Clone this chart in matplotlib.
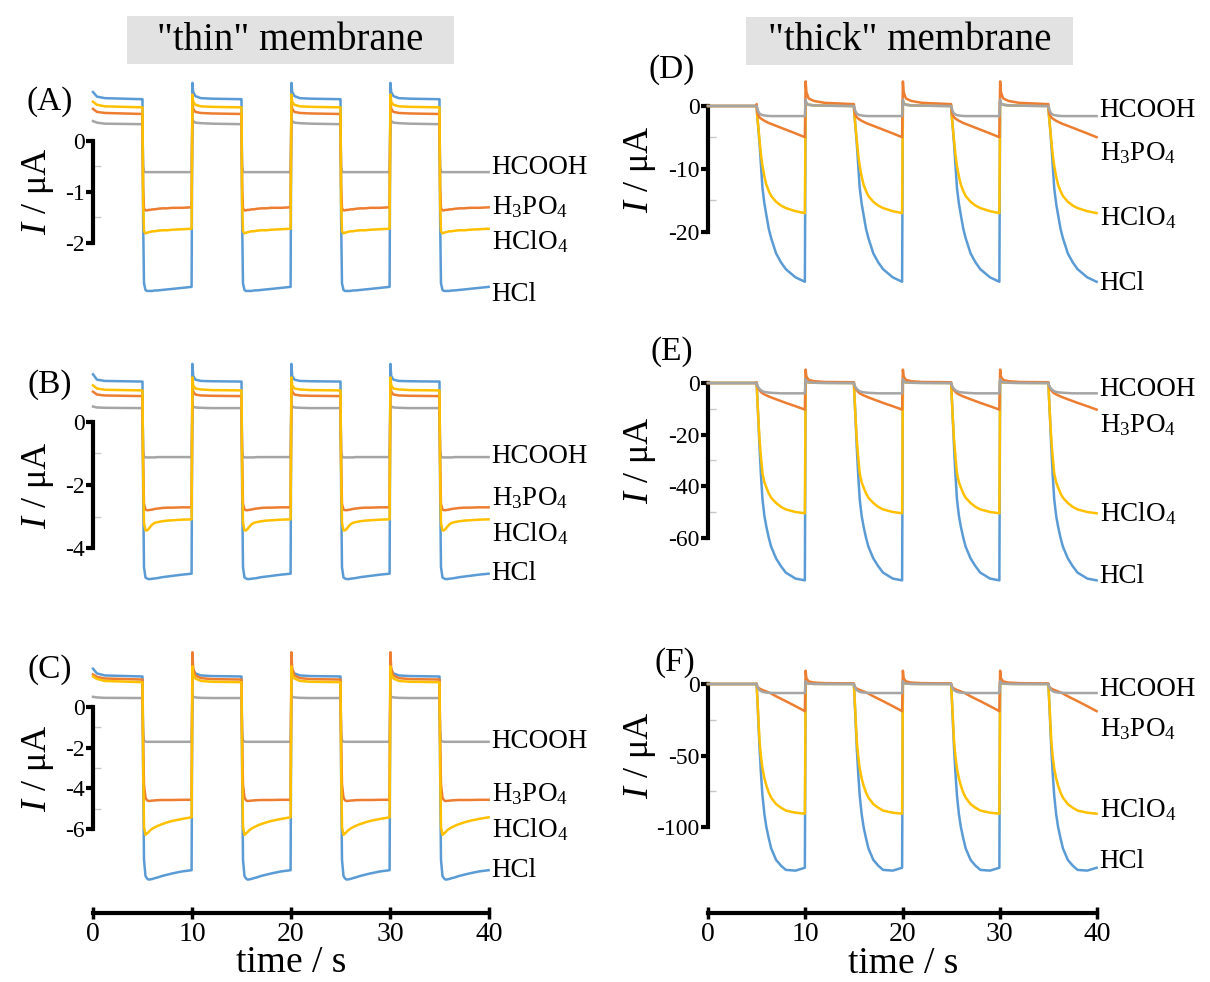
import matplotlib
matplotlib.use("Agg")
import matplotlib.pyplot as plt
from matplotlib.patches import Rectangle

plt.rcParams['font.family'] = ['Liberation Serif', 'DejaVu Serif']
plt.rcParams['mathtext.fontset'] = 'custom'
plt.rcParams['mathtext.rm'] = 'Liberation Serif'
plt.rcParams['mathtext.it'] = 'Liberation Serif:italic'
plt.rcParams['axes.unicode_minus'] = False

# one 10 s period: potential off (5 s) then on (5 s); times relative to phase start
first_t = [0.0, 0.4, 1.2, 4.96]
off_t = [0.04, 0.12, 0.35, 0.9, 2.0, 4.96]
on_t = [0.0, 0.06, 0.15, 0.3, 0.45, 0.6, 0.8, 1.0, 1.25, 1.5, 2.0, 2.5, 3.0, 4.0, 4.96]
n_periods = 4

species = ["HCl", "HClO4", "H3PO4", "HCOOH"]
names = ["HCl", "HClO$_4$", "H$_3$PO$_4$", "HCOOH"]
colors = ["#5B9BD5", "#FFC000", "#ED7D31", "#A5A5A5"]

# current (uA), order: HCl, HClO4, H3PO4, HCOOH
A_first = [[0.95, 0.86, 0.83, 0.81],
           [0.76, 0.70, 0.67, 0.65],
           [0.62, 0.56, 0.54, 0.52],
           [0.38, 0.35, 0.33, 0.32]]
A_off = [[1.13, 0.95, 0.87, 0.83, 0.82, 0.81],
         [0.90, 0.76, 0.70, 0.67, 0.66, 0.65],
         [0.75, 0.62, 0.56, 0.54, 0.53, 0.52],
         [0.42, 0.38, 0.35, 0.34, 0.33, 0.32]]
A_on = [[0.81, -1.5, -2.8, -2.93, -2.95, -2.95, -2.95, -2.95, -2.94, -2.94, -2.93, -2.92, -2.91, -2.89, -2.87],
        [0.65, -1.2, -1.78, -1.82, -1.81, -1.80, -1.79, -1.78, -1.78, -1.77, -1.76, -1.76, -1.75, -1.74, -1.73],
        [0.52, -0.9, -1.33, -1.37, -1.37, -1.36, -1.36, -1.35, -1.35, -1.34, -1.33, -1.33, -1.32, -1.32, -1.31],
        [0.32, -0.5, -0.61, -0.62, -0.62, -0.62, -0.62, -0.62, -0.62, -0.62, -0.62, -0.62, -0.62, -0.62, -0.62]]

B_first = [[1.50, 1.33, 1.29, 1.27],
           [1.15, 1.05, 1.01, 0.99],
           [0.95, 0.86, 0.83, 0.81],
           [0.48, 0.45, 0.44, 0.43]]
B_off = [[1.83, 1.45, 1.33, 1.29, 1.28, 1.27],
         [1.40, 1.15, 1.05, 1.02, 1.00, 0.99],
         [1.18, 0.95, 0.86, 0.83, 0.82, 0.81],
         [0.55, 0.48, 0.45, 0.44, 0.43, 0.43]]
B_on = [[1.27, -2.0, -4.6, -4.93, -4.96, -4.98, -4.98, -4.97, -4.96, -4.95, -4.92, -4.90, -4.88, -4.84, -4.81],
        [0.99, -1.5, -3.2, -3.44, -3.44, -3.40, -3.32, -3.25, -3.20, -3.18, -3.15, -3.13, -3.12, -3.10, -3.09],
        [0.81, -1.2, -2.6, -2.78, -2.80, -2.80, -2.79, -2.78, -2.76, -2.75, -2.73, -2.72, -2.72, -2.71, -2.71],
        [0.43, -0.9, -1.10, -1.13, -1.13, -1.13, -1.13, -1.13, -1.13, -1.12, -1.12, -1.12, -1.12, -1.12, -1.12]]

C_first = [[1.88, 1.65, 1.55, 1.50],
           [1.50, 1.38, 1.28, 1.22],
           [1.60, 1.48, 1.40, 1.35],
           [0.50, 0.47, 0.45, 0.44]]
C_off = [[2.10, 1.80, 1.65, 1.55, 1.52, 1.50],
         [2.00, 1.60, 1.40, 1.28, 1.24, 1.22],
         [2.69, 1.90, 1.55, 1.42, 1.37, 1.35],
         [0.57, 0.50, 0.47, 0.45, 0.44, 0.44]]
C_on = [[1.50, -3.0, -7.5, -8.30, -8.42, -8.48, -8.47, -8.45, -8.41, -8.38, -8.30, -8.24, -8.18, -8.08, -8.02],
        [1.22, -2.5, -5.9, -6.28, -6.22, -6.15, -6.05, -5.98, -5.91, -5.85, -5.75, -5.67, -5.60, -5.50, -5.42],
        [1.35, -1.5, -3.8, -4.45, -4.58, -4.62, -4.61, -4.60, -4.59, -4.58, -4.57, -4.57, -4.57, -4.56, -4.56],
        [0.44, -1.2, -1.65, -1.70, -1.71, -1.71, -1.71, -1.71, -1.71, -1.71, -1.71, -1.71, -1.71, -1.71, -1.71]]

D_first = [[0.0, 0.0, 0.0, 0.0]] * 4
D_off = [[0.8, 0.4, 0.2, 0.1, 0.05, 0.0],
         [0.8, 0.4, 0.2, 0.1, 0.05, 0.0],
         [3.9, 2.2, 1.2, 0.8, 0.5, 0.3],
         [1.0, 0.4, 0.2, 0.1, 0.05, 0.0]]
D_on = [[0.0, -1.5, -3.0, -6.0, -9.5, -13.0, -15.5, -17.3, -19.5, -21.0, -23.4, -24.8, -25.9, -27.2, -27.9],
        [0.0, -1.5, -3.0, -5.5, -7.8, -9.5, -11.2, -12.5, -13.5, -14.3, -15.2, -15.8, -16.2, -16.7, -17.0],
        [0.3, -0.8, -1.4, -1.8, -2.0, -2.15, -2.35, -2.5, -2.7, -2.85, -3.15, -3.45, -3.75, -4.35, -4.95],
        [0.0, -0.3, -0.8, -1.2, -1.35, -1.45, -1.5, -1.55, -1.58, -1.6, -1.6, -1.6, -1.6, -1.6, -1.6]]

E_first = [[0.0, 0.0, 0.0, 0.0]] * 4
E_off = [[1.0, 0.5, 0.2, 0.1, 0.05, 0.0],
         [1.0, 0.5, 0.2, 0.1, 0.05, 0.0],
         [5.2, 2.5, 1.2, 0.7, 0.4, 0.3],
         [1.5, 0.6, 0.3, 0.1, 0.05, 0.0]]
E_on = [[0.0, -5, -12, -25, -36, -45, -51.5, -55.7, -60, -63.5, -68, -71, -73.5, -75.8, -76.5],
        [0.0, -5, -12, -22, -29, -35, -38.5, -40.5, -42.8, -44.5, -46.5, -48, -49, -50, -50.5],
        [0.3, -1.0, -2.0, -2.8, -3.5, -4.0, -4.4, -4.8, -5.2, -5.6, -6.3, -7.0, -7.7, -9.0, -10.3],
        [0.0, -0.8, -1.5, -2.3, -2.8, -3.2, -3.45, -3.6, -3.7, -3.8, -3.9, -4.0, -4.0, -4.0, -4.0]]

F_first = [[0.0, 0.0, 0.0, 0.0]] * 4
F_off = [[1.5, 0.6, 0.3, 0.1, 0.05, 0.0],
         [1.5, 0.6, 0.3, 0.1, 0.05, 0.0],
         [9.3, 4.0, 1.8, 1.0, 0.6, 0.4],
         [2.0, 0.8, 0.3, 0.1, 0.05, 0.0]]
F_on = [[0.0, -8, -22, -45, -63, -78, -91, -100, -108, -115, -123, -127, -130, -130.5, -128.5],
        [0.0, -8, -20, -40, -51, -59, -66, -71, -76, -79.5, -84, -86.5, -88.5, -90, -90.7],
        [0.4, -1.5, -2.5, -3.2, -3.7, -4.2, -4.7, -5.2, -5.9, -6.7, -8.6, -10.3, -12.0, -15.5, -19.0],
        [0.0, -1.5, -3.0, -4.3, -5.0, -5.5, -5.8, -6.0, -6.1, -6.2, -6.3, -6.3, -6.3, -6.3, -6.3]]

major_ticks = {"A": [0, -1, -2], "B": [0, -2, -4], "C": [0, -2, -4, -6],
               "D": [0, -10, -20], "E": [0, -20, -40, -60], "F": [0, -50, -100]}
minor_ticks = {"A": [-0.5, -1.5], "B": [-1, -3], "C": [-1, -3, -5],
               "D": [-5, -15], "E": [-10, -30, -50], "F": [-25, -75]}
time_ticks = [0, 10, 20, 30, 40]

# ---- layout (pixels of a 1210x982 canvas) ----
W, H = 1210, 982
col_x = {"L": (93, 489), "R": (708, 1097)}
# panel: column, pixel of zero, pixels per unit, ylim, letter pos, label pixel offsets
layout = {
    "A": ("L", 140.5, 51.0, (-3.2, 1.3), (50, 102), [-8, -13, 0, 5]),
    "B": ("L", 421.7, 31.6, (-5.3, 2.0), (50, 385), [0, -14, 9, 1]),
    "C": ("L", 707.0, 20.35, (-9.0, 3.0), (50, 670), [0, -12, 6, 0]),
    "D": ("R", 106.0, 6.3, (-30, 5), (672, 70), [-2, -5, -16, 6]),
    "E": ("R", 383.0, 2.58, (-80, 8), (672, 352), [4, 0, -16, 4]),
    "F": ("R", 684.0, 1.43, (-140, 15), (675, 663), [6, 4, -18, 4]),
}
data = {"A": (A_first, A_off, A_on), "B": (B_first, B_off, B_on),
        "C": (C_first, C_off, C_on), "D": (D_first, D_off, D_on),
        "E": (E_first, E_off, E_on), "F": (F_first, F_off, F_on)}

fig = plt.figure(figsize=(W / 100, H / 100), dpi=100)


def series(first_vals, off_vals, on_vals):
    t, v = list(first_t), list(first_vals)
    for k in range(n_periods):
        t0 = 10 * k
        if k > 0:
            t += [t0 + x for x in off_t]
            v += off_vals
        t += [t0 + 5 + x for x in on_t]
        v += on_vals
    return t, v


for key, (col, zero, ppu, (lo, hi), letter_pos, offs) in layout.items():
    x0, x1 = col_x[col]
    top = zero - hi * ppu
    bot = zero - lo * ppu
    ax = fig.add_axes([x0 / W, 1 - bot / H, (x1 - x0) / W, (bot - top) / H])
    ax.patch.set_alpha(0)
    ax.set_xlim(0, 40)
    ax.set_ylim(lo, hi)
    first_d, off_d, on_d = data[key]
    order = [0, 3, 2, 1] if col == "L" else [0, 1, 2, 3]
    for z, i in enumerate(order):
        t, v = series(first_d[i], off_d[i], on_d[i])
        ax.plot(t, v, color=colors[i], lw=1.8, zorder=2 + z, clip_on=False)
    for i in range(4):
        ax.annotate(names[i], xy=(40, on_d[i][-1]), xytext=(2, offs[i] * 0.72),
                    textcoords="offset points", va="center", ha="left",
                    fontsize=19.5, annotation_clip=False)

    for s in ["top", "right"]:
        ax.spines[s].set_visible(False)
    ax.spines["left"].set_linewidth(3)
    ax.spines["left"].set_bounds(min(major_ticks[key]), 0)
    ax.set_yticks(major_ticks[key], labels=[str(v) for v in major_ticks[key]])
    ax.set_yticks(minor_ticks[key], minor=True)
    ax.tick_params(axis="y", which="major", direction="out", length=5, width=3,
                   labelsize=17, pad=1)
    ax.tick_params(axis="y", which="minor", direction="in", length=6, width=1,
                   color="#c8c8c8")

    if key in ("C", "F"):
        ax.spines["bottom"].set_position(("outward", (913 - bot) * 0.72))
        ax.spines["bottom"].set_linewidth(3)
        ax.spines["bottom"].set_bounds(0, 40)
        ax.set_xticks(time_ticks, labels=[str(v) for v in time_ticks])
        ax.tick_params(axis="x", direction="inout", length=9, width=2.5,
                       labelsize=20, pad=2)
    else:
        ax.spines["bottom"].set_visible(False)
        ax.set_xticks([])

    fig.text(letter_pos[0] / W, 1 - letter_pos[1] / H, "(" + key + ")",
             fontsize=24, ha="center", va="center")
    ylab_x = 38 if col == "L" else 640
    fig.text(ylab_x / W, 1 - (zero - min(major_ticks[key]) * ppu / 2) / H,
             "$I$ / μA", rotation=90, fontsize=26, ha="center", va="center")

# column headers
for (bx0, bx1, by0, by1, txt) in [(127, 454, 16, 64, '"thin" membrane'),
                                  (746, 1073, 17, 65, '"thick" membrane')]:
    fig.patches.append(Rectangle((bx0 / W, 1 - by1 / H), (bx1 - bx0) / W,
                                 (by1 - by0) / H, transform=fig.transFigure,
                                 facecolor="#e2e2e2", edgecolor="none"))
    fig.text((bx0 + bx1) / 2 / W, 1 - (by0 + by1) / 2 / H, txt,
             fontsize=28, ha="center", va="center")

fig.text(291 / W, 1 - 972 / H, "time / s", fontsize=27, ha="center", va="baseline")
fig.text(903 / W, 1 - 973 / H, "time / s", fontsize=27, ha="center", va="baseline")

fig.savefig("out.png", dpi=100)
